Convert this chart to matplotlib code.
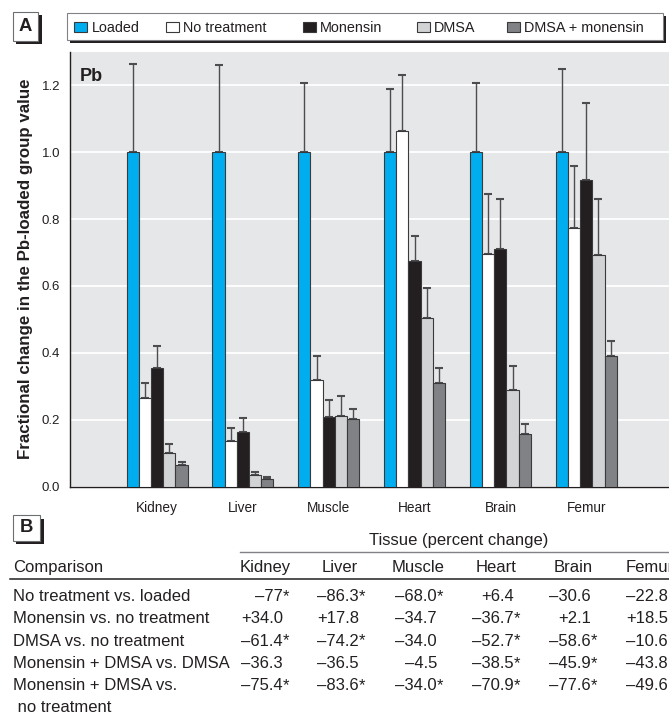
import matplotlib
matplotlib.use("Agg")
import numpy as np
import matplotlib.pyplot as plt
from matplotlib.patches import Rectangle
from matplotlib.lines import Line2D

# ---------------- data ----------------
tissues = ["Kidney", "Liver", "Muscle", "Heart", "Brain", "Femur"]
series_names = ["Loaded", "No treatment", "Monensin", "DMSA", "DMSA + monensin"]
series_colors = ["#00AEEF", "#FFFFFF", "#231F20", "#D1D3D4", "#808285"]

loaded = [1.0, 1.0, 1.0, 1.0, 1.0, 1.0]
loaded_err = [0.264, 0.259, 0.206, 0.188, 0.205, 0.247]
no_treatment = [0.264, 0.137, 0.320, 1.064, 0.694, 0.772]
no_treatment_err = [0.047, 0.039, 0.071, 0.166, 0.182, 0.187]
monensin = [0.354, 0.162, 0.209, 0.674, 0.709, 0.916]
monensin_err = [0.066, 0.043, 0.050, 0.075, 0.152, 0.231]
dmsa = [0.102, 0.036, 0.211, 0.504, 0.288, 0.691]
dmsa_err = [0.027, 0.009, 0.060, 0.089, 0.073, 0.170]
dmsa_monensin = [0.065, 0.023, 0.202, 0.311, 0.157, 0.390]
dmsa_monensin_err = [0.008, 0.006, 0.030, 0.043, 0.030, 0.046]

y_ticks = [0.0, 0.2, 0.4, 0.6, 0.8, 1.0, 1.2]

# percent-change table (panel B)
comparisons = [
    "No treatment vs. loaded",
    "Monensin vs. no treatment",
    "DMSA vs. no treatment",
    "Monensin + DMSA vs. DMSA",
    "Monensin + DMSA vs.\n no treatment",
]
pct_no_treatment_vs_loaded = ["–77*", "–86.3*", "–68.0*", "+6.4", "–30.6", "–22.8"]
pct_monensin_vs_no_treatment = ["+34.0", "+17.8", "–34.7", "–36.7*", "+2.1", "+18.5"]
pct_dmsa_vs_no_treatment = ["–61.4*", "–74.2*", "–34.0", "–52.7*", "–58.6*", "–10.6"]
pct_combo_vs_dmsa = ["–36.3", "–36.5", "–4.5", "–38.5*", "–45.9*", "–43.8"]
pct_combo_vs_no_treatment = ["–75.4*", "–83.6*", "–34.0*", "–70.9*", "–77.6*", "–49.6"]

# ---------------- figure ----------------
W, H, DPI = 669, 719, 100
plt.rcParams["font.family"] = ["Liberation Sans", "DejaVu Sans"]
fig = plt.figure(figsize=(W / DPI, H / DPI), dpi=DPI)


def fx(x):
    return x / W


def fy(y):
    return 1 - y / H


def fig_rect(x0, y0, x1, y1, **kw):
    r = Rectangle((fx(x0), fy(y1)), (x1 - x0) / W, (y1 - y0) / H,
                  transform=fig.transFigure, **kw)
    fig.add_artist(r)
    return r


def fig_hline(x0, x1, y, **kw):
    fig.add_artist(Line2D([fx(x0), fx(x1)], [fy(y), fy(y)],
                          transform=fig.transFigure, **kw))


# ---------------- panel A: bar chart ----------------
ax_left, ax_top, ax_bottom = 70, 51.7, 486.7
ax = fig.add_axes([fx(ax_left), fy(ax_bottom), (W - ax_left) / W,
                   (ax_bottom - ax_top) / H])
ax.set_facecolor("#E6E7E8")

x = np.arange(len(tissues))
bw = 0.1422
series = [
    (loaded, loaded_err),
    (no_treatment, no_treatment_err),
    (monensin, monensin_err),
    (dmsa, dmsa_err),
    (dmsa_monensin, dmsa_monensin_err),
]
for j, ((vals, errs), color) in enumerate(zip(series, series_colors)):
    ax.bar(x + (j - 2) * bw, vals, bw, color=color, edgecolor="#3A3A3C",
           linewidth=0.8, zorder=3,
           yerr=[np.zeros(len(errs)), errs],
           error_kw=dict(ecolor="#4D4D4F", elinewidth=1.0, capsize=3.0,
                         capthick=1.5, zorder=2))

ax.set_xlim(-1.016, 5.965)
ax.set_ylim(0, 1.30)
ax.set_yticks(y_ticks)
ax.set_yticklabels([f"{v:.1f}" for v in y_ticks])
ax.set_xticks(x)
ax.set_xticklabels(tissues)
ax.tick_params(axis="both", length=0, colors="#231F20")
ax.tick_params(axis="y", labelsize=9.5, pad=7)
ax.tick_params(axis="x", labelsize=9.8, pad=10)
ax.yaxis.grid(True, color="white", linewidth=1.3, zorder=0)
ax.set_axisbelow(True)
for s in ("top", "right"):
    ax.spines[s].set_visible(False)
for s in ("left", "bottom"):
    ax.spines[s].set_color("#231F20")
    ax.spines[s].set_linewidth(1.0)

ax.text(0.016, 0.962, "Pb", transform=ax.transAxes, ha="left", va="top",
        fontsize=13, fontweight="bold", color="#231F20")

fig.text(fx(26), fy(269), "Fractional change in the Pb-loaded group value",
         rotation=90, ha="center", va="center", fontsize=12.2,
         fontweight="bold", color="#231F20")

# panel letter boxes with drop shadow
for (x0, y0, x1, y1), letter in [((12.7, 11.7, 38.0, 40.7), "A"),
                                 ((12.7, 515.0, 40.0, 540.7), "B")]:
    fig_rect(x0 + 3.5, y0 + 3.5, x1 + 3.5, y1 + 3.5, facecolor="#231F20",
             edgecolor="none")
    fig_rect(x0, y0, x1, y1, facecolor="white", edgecolor="#6D6E71",
             linewidth=0.8)
    fig.text(fx((x0 + x1) / 2), fy((y0 + y1) / 2), letter, ha="center",
             va="center", fontsize=13.3, fontweight="bold", color="#231F20")

# legend box
fig_rect(66.7 + 3.3, 12.7 + 3.3, 663 + 3.3, 40 + 3.3, facecolor="#231F20",
         edgecolor="none")
fig_rect(66.7, 12.7, 663, 40, facecolor="white", edgecolor="#808285",
         linewidth=0.8)
patch_left = [74, 165.7, 302.7, 416.7, 506.7]
for name, color, px in zip(series_names, series_colors, patch_left):
    fig_rect(px, 21.7, px + 13, 31.7, facecolor=color, edgecolor="#3A3A3C",
             linewidth=0.8)
    fig.text(fx(px + 17.5), fy(31.7), name, ha="left", va="baseline",
             fontsize=10.4, color="#231F20")

# ---------------- panel B: table ----------------
tfs = 12.0
tcolor = "#231F20"
row_step = 22.3
col_right = [283, 359, 437, 514, 591, 668]
col_center = [265, 340, 418, 496, 573, 650]

fig.text(fx(458.7), fy(545), "Tissue (percent change)", ha="center",
         va="baseline", fontsize=tfs, color=tcolor)
fig_hline(240, W, 551.7, color="#808285", linewidth=1.0)
fig.text(fx(12.7), fy(571.7), "Comparison", ha="left", va="baseline",
         fontsize=tfs, color=tcolor)
for name, cx in zip(tissues, col_center):
    fig.text(fx(cx), fy(571.7), name, ha="center", va="baseline",
             fontsize=tfs, color=tcolor)
fig_hline(10, W, 579, color="#231F20", linewidth=1.1)

rows = [pct_no_treatment_vs_loaded, pct_monensin_vs_no_treatment,
        pct_dmsa_vs_no_treatment, pct_combo_vs_dmsa, pct_combo_vs_no_treatment]
first_base = 601
for i, (label, vals) in enumerate(zip(comparisons, rows)):
    yb = first_base + i * row_step
    for k, line in enumerate(label.split("\n")):
        fig.text(fx(12.7), fy(yb + k * row_step), line, ha="left",
                 va="baseline", fontsize=tfs, color=tcolor)
    for v, xr in zip(vals, col_right):
        num, star = (v[:-1], "*") if v.endswith("*") else (v, "")
        fig.text(fx(xr), fy(yb), num, ha="right", va="baseline", fontsize=tfs,
                 color=tcolor)
        if star:
            fig.text(fx(xr), fy(yb), star, ha="left", va="baseline",
                     fontsize=tfs, color=tcolor)

fig.savefig("out.png", dpi=DPI, facecolor="white")
